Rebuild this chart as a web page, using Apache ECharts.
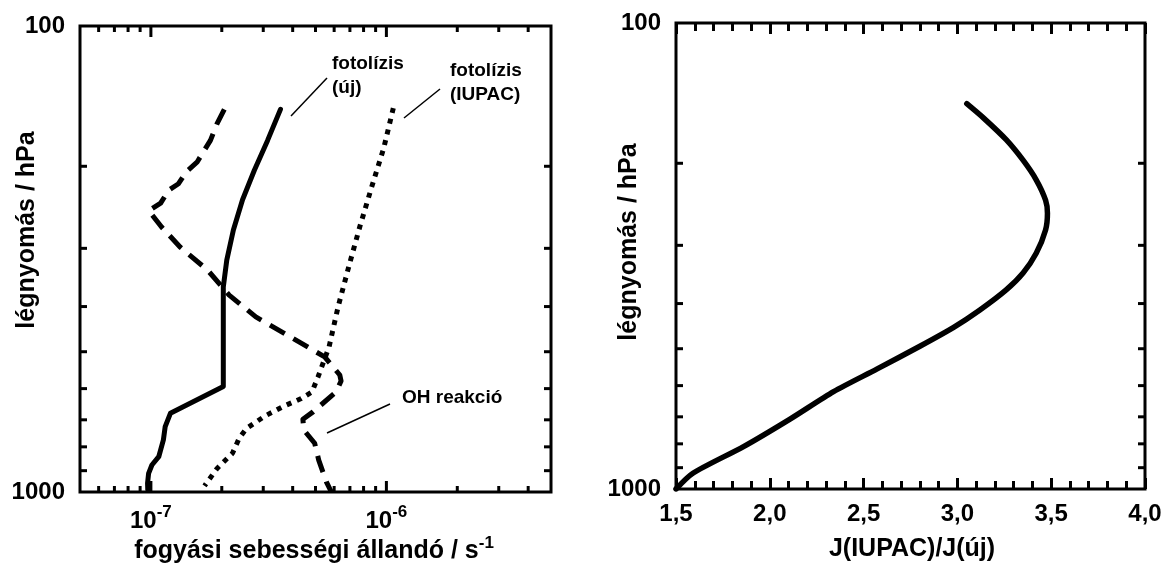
<!DOCTYPE html>
<html>
<head>
<meta charset="utf-8">
<script src="https://cdn.jsdelivr.net/npm/echarts@6/dist/echarts.min.js"></script>
<style>
  html, body { margin: 0; padding: 0; background: #fff; }
  #chart { width: 1169px; height: 570px; }
</style>
</head>
<body>
<div id="chart"></div>
<script>
// Left panel: loss rate constants (s^-1) versus pressure (hPa)
const pressNew = [151, 176, 204, 236, 274, 318, 363, 594, 678, 724, 773, 840, 875, 912, 958, 990];
const rateNew = [3.55e-7, 3.13e-7, 2.75e-7, 2.45e-7, 2.24e-7, 2.10e-7, 2.03e-7, 2.03e-7, 1.21e-7, 1.15e-7, 1.13e-7, 1.08e-7, 1.01e-7, 0.978e-7, 0.968e-7, 0.97e-7];

const pressOH = [151, 162, 176, 196, 205, 218, 225, 240, 249, 270, 298, 334, 378, 421, 468, 513, 561, 578, 609, 673, 698, 736, 786, 854, 951, 1000];
const rateOH = [2.05e-7, 1.91e-7, 1.79e-7, 1.57e-7, 1.42e-7, 1.31e-7, 1.19e-7, 1.10e-7, 0.98e-7, 1.11e-7, 1.33e-7, 1.74e-7, 2.15e-7, 2.79e-7, 4.01e-7, 5.47e-7, 6.34e-7, 6.42e-7, 6.13e-7, 4.88e-7, 4.42e-7, 4.46e-7, 4.96e-7, 5.16e-7, 5.56e-7, 5.84e-7];

const pressIUPAC = [150, 183, 222, 269, 326, 400, 488, 567, 610, 630, 656, 687, 730, 767, 826, 890, 970];
const rateIUPAC = [1.07e-6, 9.74e-7, 8.65e-7, 7.72e-7, 6.95e-7, 6.24e-7, 5.71e-7, 5.12e-7, 4.83e-7, 4.35e-7, 3.63e-7, 3.05e-7, 2.55e-7, 2.37e-7, 2.22e-7, 1.91e-7, 1.69e-7];

// Right panel: ratio J(IUPAC)/J(new) versus pressure
const ratioPress = [149, 160, 178, 197, 217, 240, 256, 278, 312, 344, 374, 413, 450, 494, 553, 618, 707, 811, 925, 1000];
const ratioJ = [3.05, 3.14, 3.26, 3.35, 3.42, 3.47, 3.48, 3.47, 3.42, 3.35, 3.26, 3.12, 2.98, 2.80, 2.57, 2.34, 2.11, 1.86, 1.59, 1.50];

// Axis ranges and tick values
const rateMin = 5e-8, rateMax = 5e-6;
const pressMin = 100, pressMax = 1000;
const rateMajorTicks = [1e-7, 1e-6];
const rateMinorTicks = [6e-8, 7e-8, 8e-8, 9e-8, 2e-7, 3e-7, 4e-7, 5e-7, 6e-7, 7e-7, 8e-7, 9e-7, 2e-6, 3e-6, 4e-6];
const pressMinorTicks = [200, 300, 400, 500, 600, 700, 800, 900];
const ratioMin = 1.5, ratioMax = 4.0, ratioStep = 0.5;

// Texts
const pressTitle = 'légnyomás / hPa';
const rateTitle = 'fogyási sebességi állandó / s';
const ratioTitle = 'J(IUPAC)/J(új)';

const FONT = '"Liberation Sans", Arial, Helvetica, sans-serif';
const INK = '#000';

const zip = (xs, ys) => xs.map((x, i) => [x, ys[i]]);

// Tick marks drawn through the axis scales: kind 0/1 = x minor/major, 2 = y minor
function tickItem(params, api) {
  const cs = params.coordSys;
  const kind = api.value(2);
  const st = { stroke: INK, lineWidth: 3 };
  if (kind < 2) {
    const px = api.coord([api.value(0), api.value(1)])[0];
    const len = kind === 1 ? 11 : 6;
    const yb = cs.y + cs.height, yt = cs.y;
    return { type: 'group', children: [
      { type: 'line', shape: { x1: px, y1: yb, x2: px, y2: yb - len }, style: st },
      { type: 'line', shape: { x1: px, y1: yt, x2: px, y2: yt + len }, style: st }
    ]};
  }
  const py = api.coord([api.value(0), api.value(1)])[1];
  const len = 7;
  const xl = cs.x, xr = cs.x + cs.width;
  return { type: 'group', children: [
    { type: 'line', shape: { x1: xl, y1: py, x2: xl + len, y2: py }, style: st },
    { type: 'line', shape: { x1: xr, y1: py, x2: xr - len, y2: py }, style: st }
  ]};
}

const leftTicks = []
  .concat(rateMinorTicks.map(v => [v, pressMin, 0]))
  .concat(rateMajorTicks.map(v => [v, pressMin, 1]))
  .concat(pressMinorTicks.map(p => [rateMin, p, 2]));
const rightTicks = pressMinorTicks.map(p => [ratioMin, p, 2]);

function isPow10(v) {
  const l = Math.log10(v);
  return Math.abs(l - Math.round(l)) < 1e-6;
}

const pressLabel = {
  fontFamily: FONT, fontWeight: 'bold', fontSize: 24, color: INK, margin: 15,
  formatter: v => isPow10(v) ? String(Math.round(v)) : ''
};

const chart = echarts.init(document.getElementById('chart'), null, { renderer: 'canvas' });

chart.setOption({
  animation: false,
  backgroundColor: '#fff',
  grid: [
    { left: 80, top: 26, width: 471, height: 466, show: true, borderColor: INK, borderWidth: 3, backgroundColor: 'transparent' },
    { left: 676, top: 23, width: 469, height: 466, show: true, borderColor: INK, borderWidth: 3, backgroundColor: 'transparent' }
  ],
  xAxis: [
    {
      gridIndex: 0, type: 'log', logBase: 10, min: rateMin, max: rateMax,
      axisLine: { show: false }, axisTick: { show: false }, splitLine: { show: false },
      axisLabel: {
        margin: 12, color: INK,
        formatter: v => isPow10(v) ? '{b|10}{s|' + Math.round(Math.log10(v)) + '}' : '',
        rich: {
          b: { fontFamily: FONT, fontWeight: 'bold', fontSize: 24, color: INK, verticalAlign: 'bottom' },
          s: { fontFamily: FONT, fontWeight: 'bold', fontSize: 17, color: INK, verticalAlign: 'bottom', padding: [0, 0, 12, 0] }
        }
      }
    },
    {
      gridIndex: 1, type: 'value', min: ratioMin, max: ratioMax, interval: ratioStep, position: 'bottom',
      axisLine: { show: false }, splitLine: { show: false },
      axisTick: { show: true, inside: true, length: 11, lineStyle: { color: INK, width: 3 } },
      minorTick: { show: true, splitNumber: 5, length: 8, lineStyle: { color: INK, width: 3 } },
      axisLabel: {
        fontFamily: FONT, fontWeight: 'bold', fontSize: 24, color: INK, margin: 13,
        formatter: v => v.toFixed(1).replace('.', ',')
      }
    },
    {
      gridIndex: 1, type: 'value', min: ratioMin, max: ratioMax, interval: ratioStep, position: 'top',
      axisLine: { show: false }, splitLine: { show: false },
      axisTick: { show: true, inside: true, length: 11, lineStyle: { color: INK, width: 3 } },
      minorTick: { show: true, splitNumber: 5, length: 8, lineStyle: { color: INK, width: 3 } },
      axisLabel: { show: false }
    }
  ],
  yAxis: [
    {
      gridIndex: 0, type: 'log', logBase: 10, min: pressMin, max: pressMax, inverse: true,
      axisLine: { show: false }, axisTick: { show: false }, splitLine: { show: false },
      axisLabel: pressLabel
    },
    {
      gridIndex: 1, type: 'log', logBase: 10, min: pressMin, max: pressMax, inverse: true,
      axisLine: { show: false }, axisTick: { show: false }, splitLine: { show: false },
      axisLabel: pressLabel
    }
  ],
  series: [
    {
      name: 'fotolízis (új)', type: 'line', xAxisIndex: 0, yAxisIndex: 0,
      data: zip(rateNew, pressNew), showSymbol: false, symbol: 'none', smooth: false,
      lineStyle: { color: INK, width: 5, cap: 'round', join: 'round' }
    },
    {
      name: 'OH reakció', type: 'line', xAxisIndex: 0, yAxisIndex: 0,
      data: zip(rateOH, pressOH), showSymbol: false, symbol: 'none', smooth: false,
      lineStyle: { color: INK, width: 5, type: [17, 10], cap: 'butt', join: 'round' }
    },
    {
      name: 'fotolízis (IUPAC)', type: 'line', xAxisIndex: 0, yAxisIndex: 0,
      data: zip(rateIUPAC, pressIUPAC), showSymbol: false, symbol: 'none', smooth: false,
      lineStyle: { color: INK, width: 5, type: [5, 6], cap: 'butt' }
    },
    {
      name: 'J(IUPAC)/J(új)', type: 'line', xAxisIndex: 1, yAxisIndex: 1,
      data: zip(ratioJ, ratioPress), showSymbol: false, symbol: 'none', smooth: 0.25,
      lineStyle: { color: INK, width: 5.5, cap: 'round', join: 'round' }
    },
    {
      type: 'custom', xAxisIndex: 0, yAxisIndex: 0, renderItem: tickItem,
      data: leftTicks, encode: { x: 0, y: 1 }, silent: true, clip: false, z: 5
    },
    {
      type: 'custom', xAxisIndex: 1, yAxisIndex: 1, renderItem: tickItem,
      data: rightTicks, encode: { x: 0, y: 1 }, silent: true, clip: false, z: 5
    }
  ],
  graphic: [
    // axis titles
    { type: 'text', x: 27, y: 230, rotation: Math.PI / 2,
      style: { text: pressTitle, fill: INK, font: 'bold 25px ' + FONT, textAlign: 'center', textVerticalAlign: 'middle' } },
    { type: 'text', x: 629, y: 242, rotation: Math.PI / 2,
      style: { text: pressTitle, fill: INK, font: 'bold 25px ' + FONT, textAlign: 'center', textVerticalAlign: 'middle' } },
    { type: 'text', x: 314, y: 549,
      style: {
        text: '{t|' + rateTitle + '}{s|-1}', textAlign: 'center', textVerticalAlign: 'middle',
        rich: {
          t: { fontFamily: FONT, fontWeight: 'bold', fontSize: 25, fill: INK, verticalAlign: 'bottom' },
          s: { fontFamily: FONT, fontWeight: 'bold', fontSize: 17, fill: INK, verticalAlign: 'bottom', padding: [0, 0, 12, 0] }
        }
      } },
    { type: 'text', x: 912, y: 549,
      style: { text: ratioTitle, fill: INK, font: 'bold 25px ' + FONT, textAlign: 'center', textVerticalAlign: 'middle' } },

    // curve annotations
    { type: 'text', x: 332, y: 64, style: { text: 'fotolízis', fill: INK, font: 'bold 19px ' + FONT, textAlign: 'left', textVerticalAlign: 'middle' } },
    { type: 'text', x: 332, y: 88, style: { text: '(új)', fill: INK, font: 'bold 19px ' + FONT, textAlign: 'left', textVerticalAlign: 'middle' } },
    { type: 'text', x: 450, y: 71, style: { text: 'fotolízis', fill: INK, font: 'bold 19px ' + FONT, textAlign: 'left', textVerticalAlign: 'middle' } },
    { type: 'text', x: 450, y: 95, style: { text: '(IUPAC)', fill: INK, font: 'bold 19px ' + FONT, textAlign: 'left', textVerticalAlign: 'middle' } },
    { type: 'text', x: 402, y: 398, style: { text: 'OH reakció', fill: INK, font: 'bold 19px ' + FONT, textAlign: 'left', textVerticalAlign: 'middle' } },

    // leader lines
    { type: 'line', shape: { x1: 327, y1: 78, x2: 291, y2: 116 }, style: { stroke: INK, lineWidth: 1.5 } },
    { type: 'line', shape: { x1: 440, y1: 89, x2: 404, y2: 118 }, style: { stroke: INK, lineWidth: 1.5 } },
    { type: 'line', shape: { x1: 390, y1: 404, x2: 327, y2: 433 }, style: { stroke: INK, lineWidth: 1.5 } }
  ]
});
</script>
</body>
</html>
